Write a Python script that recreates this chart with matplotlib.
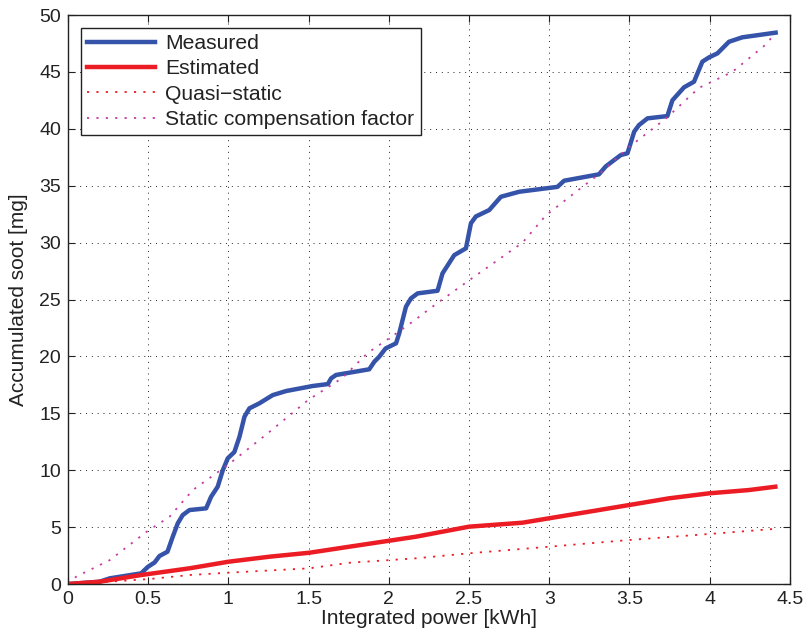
import matplotlib
matplotlib.use("Agg")
import matplotlib.pyplot as plt
import numpy as np

plt.rcParams['font.family'] = ['Liberation Sans', 'DejaVu Sans']

# measured soot
meas_x = [0, 0.196, 0.26, 0.456, 0.497, 0.54, 0.57, 0.62, 0.653, 0.684, 0.715, 0.757,
          0.861, 0.892, 0.933, 0.965, 0.996, 1.037, 1.069, 1.1, 1.131, 1.193, 1.276,
          1.36, 1.525, 1.62, 1.64, 1.671, 1.878, 1.91, 1.94, 1.98, 2.045, 2.065, 2.107,
          2.138, 2.18, 2.304, 2.335, 2.408, 2.481, 2.512, 2.543, 2.626, 2.699, 2.813,
          3.052, 3.093, 3.31, 3.353, 3.447, 3.488, 3.53, 3.56, 3.613, 3.737, 3.768,
          3.841, 3.903, 3.955, 3.997, 4.049, 4.121, 4.204, 4.412]
meas_y = [0, 0.2, 0.5, 0.94, 1.5, 1.9, 2.46, 2.84, 4.16, 5.33, 6.06, 6.5,
          6.65, 7.67, 8.55, 10.0, 11.05, 11.6, 12.94, 14.7, 15.44, 15.88, 16.6,
          16.96, 17.4, 17.57, 18.07, 18.37, 18.87, 19.54, 19.97, 20.7, 21.15, 22.03, 24.37,
          25.1, 25.54, 25.77, 27.3, 28.9, 29.5, 31.7, 32.3, 32.86, 34.03, 34.47,
          34.9, 35.44, 36.0, 36.7, 37.7, 37.85, 39.75, 40.33, 40.92, 41.12, 42.5,
          43.65, 44.14, 45.9, 46.28, 46.63, 47.65, 48.04, 48.45]

est_x = [0, 0.196, 0.456, 0.757, 1.0, 1.255, 1.505, 1.754, 2.17, 2.5, 2.834, 2.958,
         3.25, 3.498, 3.747, 3.997, 4.246, 4.41]
est_y = [0, 0.2, 0.79, 1.38, 1.96, 2.4, 2.75, 3.28, 4.16, 5.04, 5.39, 5.68,
         6.36, 6.94, 7.53, 7.97, 8.26, 8.55]

qs_x = [0, 0.25, 0.508, 0.757, 1.006, 1.505, 1.754, 2.17, 2.5, 3.0, 3.5, 4.0, 4.41]
qs_y = [0, 0.2, 0.44, 0.79, 1.0, 1.38, 1.87, 2.26, 2.7, 3.28, 3.87, 4.4, 4.85]

scf_x = [0, 0.05, 0.26, 0.5, 0.632, 0.778, 1.0, 1.25, 1.5, 1.71, 1.868, 2.065, 2.148,
         2.294, 2.522, 2.834, 2.98, 3.207, 3.31, 3.498, 3.727, 3.934, 4.142, 4.35, 4.41]
scf_y = [0, 0.64, 2.1, 4.7, 5.9, 8.26, 10.5, 13.3, 16.2, 18.1, 20.3, 22.2, 23.05,
         24.6, 26.9, 30.0, 32.4, 34.9, 36.0, 38.4, 40.9, 43.6, 45.0, 47.4, 48.4]

fig = plt.figure(figsize=(8.1, 6.42), dpi=100)
ax = fig.add_axes([0.084, 0.0903, 0.891, 0.8863])

ax.plot(meas_x, meas_y, color='#3553a8', lw=3.2, label='Measured', solid_joinstyle='round')
ax.plot(est_x, est_y, color='#ec1c24', lw=3.2, label='Estimated', solid_joinstyle='round')
ax.plot(qs_x, qs_y, color='#ec1c24', lw=1.3, linestyle=(0, (1.2, 4)), label='Quasi\u2212static')
ax.plot(scf_x, scf_y, color='#c43ca0', lw=1.3, linestyle=(0, (1.2, 4)),
        label='Static compensation factor')

ax.set_xlim(0, 4.5)
ax.set_ylim(0, 50)
ax.set_xticks(np.arange(0, 4.51, 0.5))
ax.set_xticklabels(['0', '0.5', '1', '1.5', '2', '2.5', '3', '3.5', '4', '4.5'])
ax.set_yticks(np.arange(0, 51, 5))
ax.tick_params(direction='in', top=True, right=True, labelsize=14, length=5, width=0.8,
               colors='#222222', pad=5)
ax.grid(True, color='#222222', linestyle=(0, (1, 5)), linewidth=0.7)
for s in ax.spines.values():
    s.set_linewidth(1.0)
    s.set_color('#222222')

ax.set_xlabel('Integrated power [kWh]', fontsize=15, labelpad=1, color='#222222')
ax.set_ylabel('Accumulated soot [mg]', fontsize=15, labelpad=8, color='#222222')

leg = ax.legend(loc='upper left', fontsize=15.2, handlelength=3.2, fancybox=False,
                framealpha=1, edgecolor='#222222', borderpad=0.3, labelspacing=0.3,
                handletextpad=0.5, borderaxespad=0.6)
leg.get_frame().set_linewidth(1.0)
for t in leg.get_texts():
    t.set_color('#222222')

fig.savefig('out.png', dpi=100)
